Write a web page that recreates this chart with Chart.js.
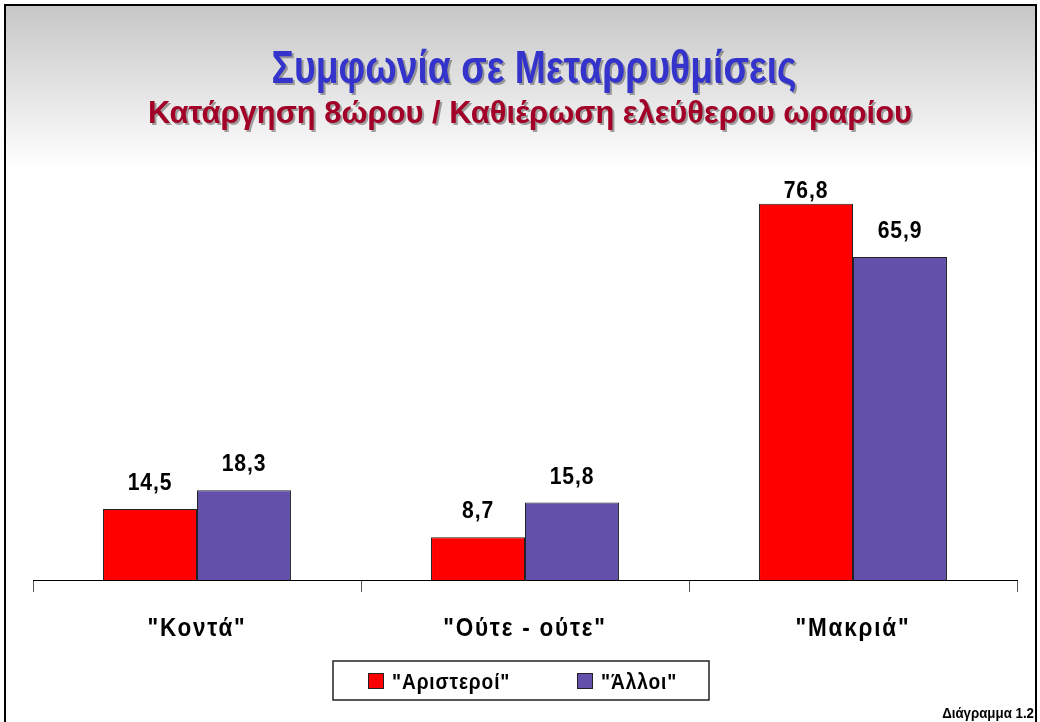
<!DOCTYPE html>
<html>
<head>
<meta charset="utf-8">
<script src="https://cdn.jsdelivr.net/npm/chart.js@4"></script>
<style>
    html, body { margin: 0; padding: 0; background: #fff; }
    #wrap { width: 1040px; height: 722px; position: relative; }
</style>
</head>
<body>
<div id="wrap"><canvas id="myChart"></canvas></div>
<script>
// data
let categorias = ['"Κοντά"', '"Ούτε - ούτε"', '"Μακριά"'];
let serieNombres = ['"Αριστεροί"', '"Άλλοι"'];
let aristeroi = [14.5, 8.7, 76.8];
let alloi = [18.3, 15.8, 65.9];
let colores = ['#FF0000', '#6350AA'];

let titulo = 'Συμφωνία σε Μεταρρυθμίσεις';
let subtitulo = 'Κατάργηση 8ώρου / Καθιέρωση ελεύθερου ωραρίου';
let nota = 'Διάγραμμα 1.2';

const FONT = '"Liberation Sans", Arial, sans-serif';

// text squeezed horizontally (the original looks tall and narrow)
function texto(ctx, txt, x, y, sx, align) {
    ctx.save();
    ctx.translate(x, y);
    ctx.scale(sx, 1);
    ctx.textAlign = align || 'center';
    ctx.fillText(txt, 0, 0);
    ctx.restore();
}

function textoAncho(ctx, txt, x, y, ancho) {
    let w = ctx.measureText(txt).width;
    texto(ctx, txt, x, y, ancho / w, 'center');
}

let fondo = {
    id: 'fondo',
    beforeDraw(chart) {
        let ctx = chart.ctx;
        ctx.save();
        let g = ctx.createLinearGradient(0, 5, 0, 170);
        g.addColorStop(0, '#c6c6c6');
        g.addColorStop(1, '#ffffff');
        ctx.fillStyle = '#fff';
        ctx.fillRect(0, 0, chart.width, chart.height);
        ctx.fillStyle = g;
        ctx.fillRect(5, 5, 1031, 165);
        ctx.lineWidth = 2;
        ctx.strokeStyle = '#000';
        ctx.strokeRect(5, 5, 1031, 740);

        // titles with shadow
        ctx.textBaseline = 'alphabetic';
        ctx.shadowColor = 'rgba(90,90,90,0.55)';
        ctx.shadowOffsetX = 2;
        ctx.shadowOffsetY = 2;
        ctx.font = 'bold 47px ' + FONT;
        ctx.fillStyle = '#3434CC';
        textoAncho(ctx, titulo, 534, 83, 525);
        ctx.font = 'bold 31px ' + FONT;
        ctx.fillStyle = '#A30028';
        textoAncho(ctx, subtitulo, 530, 123, 764);
        ctx.restore();
    },
    afterDatasetsDraw(chart) {
        let ctx = chart.ctx;
        let tope = chart.chartArea.top + 10;
        ctx.save();
        ctx.letterSpacing = '1px';
        ctx.font = 'bold 24px ' + FONT;
        ctx.fillStyle = '#000';
        ctx.textBaseline = 'alphabetic';
        chart.data.datasets.forEach((ds, i) => {
            chart.getDatasetMeta(i).data.forEach((bar, j) => {
                let txt = ds.data[j].toFixed(1).replace('.', ',');
                texto(ctx, txt, bar.x, Math.max(bar.y - 19, tope), 0.88);
            });
        });
        ctx.restore();
    },
    afterDraw(chart) {
        let ctx = chart.ctx;
        ctx.save();
        ctx.fillStyle = '#000';
        ctx.textBaseline = 'alphabetic';

        // category labels
        let x = chart.scales.x;
        ctx.letterSpacing = '2px';
        ctx.font = 'bold 25px ' + FONT;
        chart.data.labels.forEach((lab, i) => {
            texto(ctx, lab, x.getPixelForValue(i), 636, 0.9);
        });

        // legend box
        ctx.letterSpacing = '1px';
        ctx.fillStyle = '#fff';
        ctx.fillRect(333, 661, 376, 39);
        ctx.lineWidth = 1.5;
        ctx.strokeStyle = '#222';
        ctx.strokeRect(333, 661, 376, 39);
        let xs = [368, 577];
        ctx.font = 'bold 22px ' + FONT;
        chart.data.datasets.forEach((ds, i) => {
            ctx.fillStyle = ds.backgroundColor;
            ctx.fillRect(xs[i], 673, 16, 16);
            ctx.lineWidth = 1;
            ctx.strokeStyle = '#222';
            ctx.strokeRect(xs[i] + 0.5, 673.5, 15, 15);
            ctx.fillStyle = '#000';
            texto(ctx, ds.label, xs[i] + 24, 689, 0.87, 'left');
        });

        ctx.letterSpacing = '0px';
        ctx.font = 'bold 14px ' + FONT;
        texto(ctx, nota, 1034, 718, 0.95, 'right');
        ctx.restore();
    }
};

document.addEventListener('DOMContentLoaded', iniciar);

function iniciar() {
    let canvas = document.getElementById('myChart');
    new Chart(canvas, {
        type: 'bar',
        data: {
            labels: categorias,
            datasets: [
                {
                    label: serieNombres[0],
                    data: aristeroi,
                    backgroundColor: colores[0],
                    borderColor: '#222',
                    borderWidth: 1
                },
                {
                    label: serieNombres[1],
                    data: alloi,
                    backgroundColor: colores[1],
                    borderColor: '#222',
                    borderWidth: 1
                }
            ]
        },
        options: {
            responsive: true,
            maintainAspectRatio: false,
            animation: false,
            layout: { padding: { top: 188, left: 33, right: 23, bottom: 0 } },
            datasets: { bar: { categoryPercentage: 0.573, barPercentage: 1 } },
            plugins: {
                legend: { display: false },
                title: { display: false },
                tooltip: { enabled: false }
            },
            scales: {
                y: {
                    display: false,
                    min: 0,
                    max: 80
                },
                x: {
                    offset: true,
                    afterFit(scale) { scale.height = 142; },
                    border: { display: true, color: '#000', width: 1 },
                    grid: {
                        offset: true,
                        drawOnChartArea: false,
                        drawTicks: true,
                        tickLength: 12,
                        color: '#555'
                    },
                    ticks: { display: false }
                }
            }
        },
        plugins: [fondo]
    });
}
</script>
</body>
</html>
